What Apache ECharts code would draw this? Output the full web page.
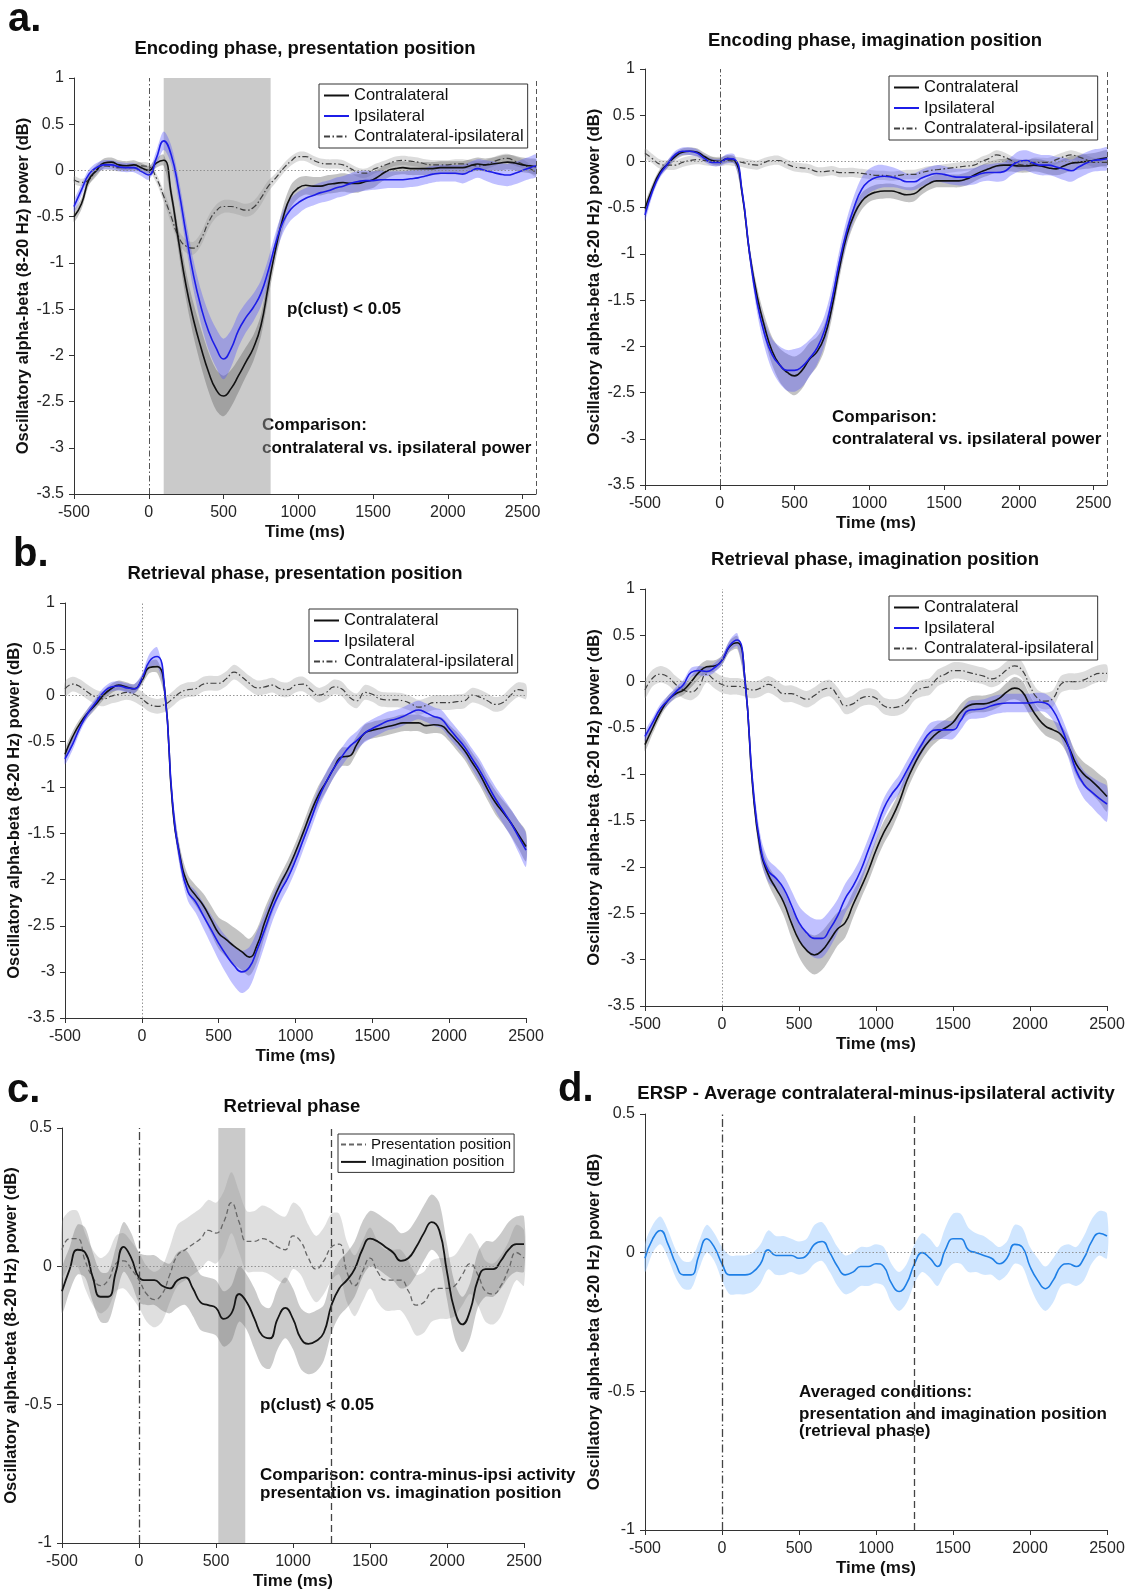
<!DOCTYPE html>
<html><head><meta charset="utf-8">
<script src="https://cdn.jsdelivr.net/npm/echarts@6/dist/echarts.min.js"></script>
<style>html,body{margin:0;padding:0;background:#fff}#c{width:1146px;height:1595px}</style>
</head><body><div id="c"></div>
<script>
const FONT = '"Liberation Sans", Arial, Helvetica, sans-serif';

// ---------- time bases (ms) ----------
const timeA = [-500,-450,-400,-350,-300,-250,-200,-150,-100,-50,
  0,50,100,150,200,250,300,350,400,450,
  500,550,600,650,700,750,800,850,900,950,
  1000,1050,1100,1150,1200,1250,1300,1350,1400,1450,
  1500,1550,1600,1650,1700,1750,1800,1850,1900,1950,
  2000,2050,2100,2150,2200,2250,2300,2350,2400,2450,
  2500,2550,2590];
const timeB = [-500,-450,-400,-350,-300,-250,-200,-150,-100,-50,
  0,50,100,150,200,250,300,350,400,450,
  500,550,600,650,700,750,800,850,900,950,
  1000,1050,1100,1150,1200,1250,1300,1350,1400,1450,
  1500,1550,1600,1650,1700,1750,1800,1850,1900,1950,
  2000,2050,2100,2150,2200,2250,2300,2350,2400,2450,
  2500];
const xTickValues = [-500,0,500,1000,1500,2000,2500];

// ---------- a: encoding, presentation ----------
const encPresContra = [-0.50,-0.36,-0.10,0.00,0.08,0.09,0.06,0.05,0.06,0.03,
  0.00,0.08,0.11,-0.25,-0.77,-1.25,-1.62,-1.92,-2.18,-2.37,
  -2.44,-2.36,-2.22,-2.07,-1.92,-1.68,-1.25,-0.84,-0.50,-0.28,
  -0.19,-0.16,-0.17,-0.17,-0.15,-0.14,-0.13,-0.14,-0.14,-0.12,
  -0.10,-0.05,0.00,0.02,0.03,0.02,0.02,0.02,0.02,0.03,
  0.03,0.03,0.03,0.05,0.07,0.06,0.07,0.08,0.09,0.08,
  0.06,0.05,0.04];
const encPresIpsi = [-0.39,-0.21,-0.04,0.03,0.06,0.06,0.04,0.03,0.03,-0.01,
  -0.05,0.13,0.32,0.17,-0.21,-0.69,-1.14,-1.48,-1.74,-1.92,
  -2.04,-1.93,-1.73,-1.59,-1.48,-1.33,-1.08,-0.78,-0.55,-0.42,
  -0.35,-0.30,-0.27,-0.24,-0.22,-0.19,-0.17,-0.14,-0.12,-0.11,
  -0.11,-0.10,-0.10,-0.10,-0.10,-0.09,-0.08,-0.06,-0.04,-0.03,
  -0.03,-0.03,-0.04,-0.01,0.02,0.00,-0.02,-0.04,-0.05,-0.03,
  0.00,0.03,0.05];
const encPresDiff = [-0.10,-0.13,-0.10,0.00,0.05,0.04,0.03,0.03,0.03,0.05,
  0.04,-0.08,-0.28,-0.50,-0.72,-0.82,-0.84,-0.74,-0.56,-0.44,
  -0.39,-0.39,-0.41,-0.43,-0.40,-0.30,-0.17,-0.08,0.02,0.10,
  0.15,0.15,0.11,0.08,0.07,0.07,0.06,0.02,-0.02,-0.03,
  0.01,0.04,0.07,0.10,0.11,0.10,0.09,0.07,0.06,0.06,
  0.06,0.07,0.07,0.06,0.05,0.06,0.09,0.12,0.13,0.10,
  0.07,0.02,-0.02];
const encPresContraErr = [0.06,0.06,0.06,0.06,0.05,0.05,0.05,0.05,0.05,0.05,
  0.05,0.05,0.06,0.08,0.12,0.15,0.18,0.20,0.21,0.22,
  0.22,0.20,0.18,0.16,0.14,0.12,0.12,0.12,0.12,0.12,
  0.11,0.10,0.10,0.10,0.10,0.10,0.10,0.10,0.10,0.09,
  0.09,0.08,0.08,0.07,0.07,0.07,0.07,0.07,0.07,0.07,
  0.07,0.07,0.07,0.07,0.07,0.07,0.07,0.08,0.08,0.08,
  0.08,0.08,0.08];
const encPresIpsiErr = [0.06,0.06,0.05,0.05,0.05,0.05,0.05,0.05,0.05,0.05,
  0.05,0.08,0.10,0.10,0.12,0.14,0.16,0.18,0.20,0.21,
  0.22,0.20,0.18,0.16,0.15,0.14,0.13,0.12,0.12,0.12,
  0.12,0.11,0.11,0.11,0.11,0.11,0.11,0.11,0.11,0.11,
  0.10,0.10,0.09,0.09,0.09,0.09,0.09,0.09,0.09,0.09,
  0.09,0.09,0.10,0.10,0.10,0.11,0.12,0.12,0.12,0.12,
  0.12,0.12,0.12];
const encPresDiffErr = [0.04,0.04,0.04,0.04,0.04,0.04,0.04,0.04,0.04,0.04,
  0.04,0.05,0.06,0.07,0.07,0.07,0.07,0.07,0.07,0.07,
  0.07,0.07,0.07,0.07,0.07,0.07,0.06,0.05,0.05,0.05,
  0.05,0.05,0.05,0.05,0.05,0.05,0.05,0.05,0.05,0.05,
  0.05,0.05,0.05,0.05,0.05,0.05,0.05,0.05,0.05,0.05,
  0.05,0.05,0.05,0.05,0.05,0.05,0.05,0.05,0.05,0.05,
  0.05,0.05,0.05];
const encPresSignificant = [100, 815];

// ---------- a: encoding, imagination ----------
const encImagContra = [-0.51,-0.29,-0.12,-0.03,0.05,0.10,0.11,0.10,0.05,0.01,
  0.00,0.03,0.01,-0.35,-1.00,-1.46,-1.79,-2.05,-2.20,-2.28,
  -2.32,-2.26,-2.14,-2.06,-1.90,-1.58,-1.16,-0.80,-0.57,-0.43,
  -0.36,-0.33,-0.32,-0.32,-0.34,-0.36,-0.35,-0.29,-0.24,-0.21,
  -0.21,-0.21,-0.21,-0.19,-0.15,-0.11,-0.08,-0.05,-0.04,-0.04,
  -0.05,-0.05,-0.04,-0.05,-0.07,-0.08,-0.05,-0.02,-0.01,0.00,
  0.01,0.03,0.04];
const encImagIpsi = [-0.58,-0.32,-0.14,-0.03,0.07,0.11,0.11,0.09,0.03,-0.01,
  -0.01,0.03,0.02,-0.33,-1.00,-1.53,-1.87,-2.09,-2.20,-2.26,
  -2.26,-2.22,-2.13,-2.02,-1.83,-1.50,-1.09,-0.75,-0.49,-0.30,
  -0.21,-0.17,-0.16,-0.17,-0.19,-0.22,-0.22,-0.18,-0.15,-0.13,
  -0.14,-0.16,-0.17,-0.17,-0.16,-0.13,-0.12,-0.12,-0.11,-0.05,
  0.00,0.01,-0.02,-0.04,-0.04,-0.06,-0.08,-0.10,-0.06,-0.02,
  0.01,0.02,0.03];
const encImagDiff = [0.09,0.03,-0.03,-0.04,-0.04,-0.01,0.01,0.02,0.01,0.00,
  0.00,0.01,0.00,-0.01,-0.03,-0.04,-0.01,0.01,0.01,-0.03,
  -0.06,-0.07,-0.08,-0.11,-0.11,-0.10,-0.12,-0.12,-0.12,-0.13,
  -0.14,-0.15,-0.15,-0.16,-0.15,-0.14,-0.14,-0.12,-0.10,-0.09,
  -0.08,-0.07,-0.06,-0.05,-0.04,0.00,0.03,0.07,0.05,0.01,
  -0.03,-0.04,-0.01,-0.01,-0.01,0.02,0.05,0.07,0.05,0.02,
  -0.01,-0.01,-0.01];
const encImagContraErr = [0.05,0.05,0.04,0.04,0.04,0.04,0.04,0.04,0.04,0.04,
  0.04,0.04,0.04,0.06,0.08,0.10,0.12,0.15,0.18,0.20,
  0.21,0.20,0.18,0.16,0.14,0.12,0.11,0.10,0.10,0.09,
  0.08,0.08,0.08,0.08,0.08,0.08,0.08,0.07,0.07,0.07,
  0.07,0.07,0.07,0.07,0.07,0.07,0.07,0.07,0.07,0.07,
  0.07,0.07,0.07,0.07,0.07,0.07,0.08,0.08,0.08,0.08,
  0.08,0.08,0.08];
const encImagIpsiErr = [0.06,0.05,0.04,0.04,0.04,0.04,0.04,0.04,0.04,0.04,
  0.04,0.05,0.05,0.06,0.08,0.11,0.14,0.17,0.20,0.22,
  0.23,0.22,0.20,0.18,0.16,0.14,0.13,0.13,0.13,0.13,
  0.13,0.13,0.12,0.11,0.10,0.09,0.09,0.09,0.09,0.09,
  0.09,0.09,0.09,0.09,0.09,0.09,0.09,0.10,0.10,0.10,
  0.11,0.11,0.11,0.11,0.11,0.11,0.12,0.12,0.12,0.12,
  0.12,0.12,0.12];
const encImagDiffErr = [0.05,0.05,0.05,0.05,0.05,0.05,0.05,0.05,0.05,0.05,
  0.05,0.05,0.05,0.05,0.05,0.05,0.05,0.05,0.05,0.05,
  0.05,0.05,0.05,0.05,0.05,0.05,0.05,0.05,0.05,0.05,
  0.05,0.05,0.05,0.05,0.05,0.05,0.05,0.05,0.05,0.05,
  0.05,0.05,0.05,0.05,0.05,0.05,0.05,0.05,0.05,0.05,
  0.05,0.05,0.05,0.05,0.05,0.05,0.05,0.05,0.05,0.05,
  0.05,0.05,0.05];

// ---------- b: retrieval, presentation ----------
const retPresContra = [-0.64,-0.45,-0.30,-0.19,-0.10,0.00,0.07,0.11,0.09,0.07,
  0.16,0.30,0.31,0.03,-1.20,-1.76,-2.05,-2.17,-2.28,-2.43,
  -2.58,-2.65,-2.72,-2.78,-2.84,-2.71,-2.46,-2.24,-2.05,-1.89,
  -1.70,-1.49,-1.27,-1.08,-0.94,-0.79,-0.67,-0.66,-0.53,-0.41,
  -0.38,-0.36,-0.34,-0.32,-0.30,-0.30,-0.30,-0.33,-0.32,-0.33,
  -0.41,-0.50,-0.60,-0.73,-0.86,-1.02,-1.16,-1.27,-1.38,-1.51,
  -1.64];
const retPresIpsi = [-0.69,-0.53,-0.34,-0.19,-0.08,0.03,0.09,0.10,0.08,0.07,
  0.18,0.37,0.42,0.03,-1.16,-1.79,-2.13,-2.24,-2.39,-2.54,
  -2.69,-2.82,-2.93,-3.00,-2.95,-2.76,-2.54,-2.31,-2.13,-1.98,
  -1.79,-1.57,-1.35,-1.12,-0.94,-0.79,-0.67,-0.56,-0.49,-0.41,
  -0.36,-0.32,-0.28,-0.26,-0.23,-0.19,-0.16,-0.19,-0.23,-0.26,
  -0.36,-0.46,-0.56,-0.69,-0.82,-0.97,-1.12,-1.25,-1.38,-1.53,
  -1.68];
const retPresDiff = [0.07,0.12,0.09,0.03,-0.02,-0.04,-0.01,0.01,0.03,0.01,
  -0.04,-0.10,-0.12,-0.10,-0.04,0.03,0.06,0.07,0.12,0.13,
  0.13,0.18,0.25,0.20,0.13,0.08,0.09,0.11,0.07,0.06,
  0.11,0.12,0.06,0.00,0.03,0.09,0.07,-0.02,-0.06,0.03,
  0.01,-0.04,-0.05,-0.05,-0.06,-0.09,-0.13,-0.11,-0.08,-0.08,
  -0.08,-0.07,-0.06,0.00,-0.02,-0.06,-0.10,-0.08,0.00,0.06,
  0.04];
const retPresContraErr = [0.06,0.06,0.05,0.05,0.05,0.05,0.05,0.05,0.05,0.05,
  0.05,0.06,0.07,0.08,0.10,0.10,0.10,0.11,0.13,0.15,
  0.17,0.19,0.20,0.20,0.20,0.18,0.15,0.12,0.10,0.10,
  0.10,0.10,0.10,0.10,0.10,0.10,0.10,0.10,0.09,0.09,
  0.09,0.09,0.09,0.09,0.09,0.09,0.09,0.09,0.09,0.09,
  0.09,0.10,0.10,0.11,0.12,0.12,0.13,0.13,0.14,0.15,
  0.16];
const retPresIpsiErr = [0.06,0.06,0.05,0.05,0.05,0.05,0.05,0.05,0.05,0.05,
  0.05,0.08,0.10,0.08,0.10,0.10,0.10,0.12,0.14,0.16,
  0.18,0.20,0.22,0.23,0.22,0.20,0.17,0.14,0.12,0.11,
  0.11,0.11,0.11,0.11,0.11,0.10,0.10,0.10,0.10,0.10,
  0.10,0.10,0.10,0.10,0.10,0.10,0.10,0.10,0.10,0.10,
  0.10,0.10,0.10,0.11,0.12,0.12,0.13,0.14,0.15,0.17,
  0.18];
const retPresDiffErr = [0.08,0.08,0.08,0.08,0.08,0.08,0.08,0.08,0.08,0.08,
  0.08,0.08,0.08,0.08,0.08,0.08,0.08,0.08,0.08,0.08,
  0.08,0.08,0.08,0.08,0.08,0.08,0.08,0.08,0.08,0.08,
  0.08,0.08,0.08,0.08,0.08,0.08,0.08,0.08,0.08,0.08,
  0.08,0.08,0.08,0.08,0.08,0.08,0.08,0.08,0.08,0.08,
  0.08,0.08,0.08,0.08,0.08,0.08,0.08,0.08,0.08,0.08,
  0.08];

// ---------- b: retrieval, imagination ----------
const retImagContra = [-0.68,-0.50,-0.33,-0.20,-0.13,-0.09,0.00,0.10,0.16,0.17,
  0.23,0.38,0.42,0.00,-1.15,-1.82,-2.08,-2.23,-2.38,-2.60,
  -2.79,-2.90,-2.95,-2.90,-2.79,-2.67,-2.60,-2.41,-2.23,-2.04,
  -1.82,-1.63,-1.48,-1.30,-1.07,-0.89,-0.74,-0.63,-0.55,-0.50,
  -0.44,-0.33,-0.26,-0.24,-0.24,-0.22,-0.18,-0.11,-0.07,-0.11,
  -0.26,-0.39,-0.48,-0.52,-0.57,-0.70,-0.89,-1.00,-1.07,-1.15,
  -1.24];
const retImagIpsi = [-0.59,-0.44,-0.29,-0.20,-0.11,-0.03,0.10,0.12,0.11,0.15,
  0.23,0.39,0.45,0.00,-1.11,-1.78,-2.04,-2.12,-2.23,-2.41,
  -2.60,-2.71,-2.77,-2.77,-2.67,-2.53,-2.34,-2.21,-2.04,-1.82,
  -1.60,-1.37,-1.22,-1.11,-0.96,-0.81,-0.67,-0.55,-0.52,-0.52,
  -0.52,-0.42,-0.31,-0.30,-0.29,-0.26,-0.24,-0.23,-0.23,-0.23,
  -0.23,-0.22,-0.23,-0.31,-0.48,-0.70,-0.96,-1.11,-1.19,-1.26,
  -1.32];
const retImagDiff = [-0.09,0.04,0.08,0.05,-0.03,-0.09,-0.11,-0.05,0.08,0.02,
  -0.03,-0.05,-0.05,-0.07,-0.09,-0.07,-0.03,-0.07,-0.13,-0.13,
  -0.16,-0.19,-0.15,-0.09,-0.07,-0.15,-0.26,-0.24,-0.18,-0.16,
  -0.18,-0.26,-0.28,-0.27,-0.22,-0.11,-0.07,-0.05,0.04,0.08,
  0.12,0.12,0.10,0.08,0.06,0.03,0.06,0.13,0.17,0.12,
  -0.05,-0.18,-0.21,-0.18,-0.03,0.00,0.00,0.02,0.06,0.09,
  0.09];
const retImagContraErr = [0.07,0.06,0.05,0.05,0.05,0.05,0.06,0.07,0.07,0.06,
  0.05,0.06,0.07,0.08,0.10,0.10,0.10,0.12,0.14,0.16,
  0.18,0.20,0.21,0.21,0.20,0.18,0.16,0.14,0.12,0.12,
  0.12,0.12,0.12,0.11,0.11,0.10,0.10,0.09,0.09,0.09,
  0.09,0.09,0.09,0.09,0.09,0.09,0.09,0.10,0.12,0.12,
  0.11,0.10,0.10,0.10,0.10,0.11,0.12,0.13,0.14,0.15,
  0.16];
const retImagIpsiErr = [0.05,0.05,0.05,0.05,0.05,0.05,0.05,0.05,0.05,0.05,
  0.05,0.06,0.07,0.08,0.10,0.12,0.12,0.12,0.14,0.16,
  0.18,0.20,0.21,0.21,0.20,0.18,0.16,0.15,0.14,0.13,
  0.12,0.11,0.10,0.10,0.10,0.10,0.10,0.10,0.10,0.10,
  0.10,0.10,0.10,0.10,0.10,0.10,0.10,0.10,0.10,0.10,
  0.10,0.10,0.10,0.11,0.12,0.13,0.14,0.15,0.16,0.18,
  0.19];
const retImagDiffErr = [0.09,0.09,0.09,0.09,0.09,0.09,0.09,0.09,0.09,0.09,
  0.09,0.09,0.09,0.09,0.09,0.09,0.09,0.09,0.09,0.09,
  0.09,0.09,0.09,0.09,0.09,0.09,0.09,0.09,0.09,0.09,
  0.09,0.09,0.09,0.09,0.09,0.09,0.09,0.09,0.09,0.09,
  0.09,0.09,0.09,0.09,0.09,0.09,0.09,0.09,0.09,0.09,
  0.09,0.09,0.09,0.09,0.09,0.09,0.09,0.09,0.09,0.09,
  0.09];

// ---------- c: retrieval, contra-minus-ipsi ----------
const cPresentation = [0.06,0.10,0.10,0.02,-0.04,-0.07,-0.05,0.01,0.02,-0.01,
  -0.05,-0.10,-0.12,-0.10,-0.03,0.04,0.06,0.08,0.10,0.13,
  0.12,0.16,0.23,0.16,0.09,0.09,0.10,0.09,0.07,0.06,
  0.11,0.09,0.03,-0.01,0.02,0.07,0.08,-0.02,-0.07,-0.02,
  0.03,-0.02,-0.05,-0.05,-0.05,-0.09,-0.14,-0.13,-0.09,-0.08,
  -0.08,-0.07,-0.03,0.01,-0.03,-0.09,-0.10,-0.07,-0.01,0.05,
  0.03];
const cImagination = [-0.09,-0.01,0.06,0.05,-0.04,-0.11,-0.11,-0.02,0.07,0.03,
  -0.04,-0.05,-0.05,-0.07,-0.08,-0.05,-0.04,-0.08,-0.13,-0.14,
  -0.15,-0.19,-0.17,-0.10,-0.13,-0.19,-0.25,-0.26,-0.19,-0.15,
  -0.19,-0.26,-0.28,-0.27,-0.24,-0.14,-0.08,-0.05,-0.01,0.06,
  0.10,0.09,0.07,0.05,0.02,0.03,0.07,0.12,0.16,0.13,
  -0.02,-0.16,-0.21,-0.16,-0.05,-0.01,-0.01,0.02,0.06,0.08,
  0.08];
const cPresentationErr = [0.10,0.10,0.10,0.10,0.10,0.10,0.10,0.10,0.10,0.10,
  0.10,0.10,0.10,0.10,0.10,0.11,0.11,0.11,0.11,0.11,
  0.11,0.11,0.11,0.11,0.11,0.11,0.12,0.12,0.12,0.12,
  0.12,0.12,0.12,0.12,0.12,0.12,0.11,0.11,0.11,0.11,
  0.11,0.11,0.11,0.11,0.11,0.11,0.11,0.11,0.11,0.11,
  0.11,0.11,0.11,0.11,0.11,0.11,0.11,0.11,0.10,0.10,
  0.10];
const cImaginationErr = [0.08,0.08,0.09,0.09,0.09,0.09,0.09,0.09,0.09,0.09,
  0.09,0.09,0.09,0.09,0.09,0.10,0.10,0.10,0.10,0.10,
  0.10,0.10,0.10,0.10,0.10,0.11,0.11,0.11,0.11,0.11,
  0.11,0.11,0.11,0.11,0.10,0.10,0.10,0.10,0.10,0.10,
  0.10,0.10,0.10,0.10,0.10,0.10,0.10,0.10,0.10,0.10,
  0.10,0.10,0.10,0.10,0.10,0.10,0.10,0.10,0.10,0.10,
  0.10];
const cSignificant = [515, 690];
const cueEndTime = 1250;

// ---------- d: averaged contra-minus-ipsi ----------
const dAverage = [-0.02,0.05,0.08,0.03,-0.04,-0.08,-0.08,-0.01,0.05,0.02,
  -0.04,-0.08,-0.08,-0.08,-0.07,-0.04,0.01,-0.01,-0.01,-0.01,
  -0.02,-0.01,0.03,0.04,0.00,-0.05,-0.08,-0.07,-0.05,-0.05,
  -0.04,-0.05,-0.11,-0.14,-0.11,-0.04,0.00,-0.02,-0.05,0.01,
  0.05,0.05,0.01,0.00,-0.01,-0.02,-0.04,-0.02,0.03,0.02,
  -0.05,-0.10,-0.13,-0.10,-0.05,-0.04,-0.05,-0.02,0.04,0.07,
  0.06];
const dAverageErr = [0.05,0.05,0.05,0.05,0.05,0.05,0.05,0.05,0.05,0.05,
  0.06,0.07,0.07,0.07,0.07,0.07,0.07,0.07,0.07,0.06,
  0.06,0.06,0.07,0.07,0.07,0.07,0.07,0.07,0.07,0.07,
  0.07,0.07,0.07,0.07,0.07,0.07,0.07,0.07,0.07,0.08,
  0.09,0.09,0.08,0.07,0.07,0.06,0.06,0.06,0.07,0.07,
  0.07,0.08,0.08,0.08,0.07,0.07,0.07,0.08,0.08,0.08,
  0.08];

// ---------- styling ----------
const C_CONTRA = '#111111', C_IPSI = '#1c1ce8', C_DIFF = '#404040', C_D = '#1e7fe6';
const B_CONTRA = 'rgba(90,90,90,0.36)', B_IPSI = 'rgba(80,80,255,0.36)', B_DIFF = 'rgba(150,150,150,0.33)';
const DASHDOT = [6, 2.5, 1.5, 2.5];

const grids = [
  {left:74, top:78, width:462, height:416},
  {left:645, top:69, width:462, height:416},
  {left:65, top:603, width:461, height:415},
  {left:645, top:589, width:462, height:417},
  {left:62, top:1128, width:462, height:415},
  {left:645, top:1114, width:462, height:416}
];
const xMax = [2590, 2590, 2500, 2500, 2500, 2500];
const yRange = [[-3.5,1],[-3.5,1],[-3.5,1],[-3.5,1],[-1,0.5],[-1,0.5]];

function xAxisFor(g) {
  return {type:'value', gridIndex:g, min:-500, max:xMax[g], interval:500,
    axisLine:{show:true, onZero:false, lineStyle:{color:'#333', width:1}},
    axisTick:{show:true, inside:false, length:5, lineStyle:{color:'#333'}, customValues:xTickValues},
    axisLabel:{show:true, color:'#262626', fontSize:16, fontFamily:FONT, margin:11, customValues:xTickValues,
      formatter:function (v) { return String(v); }},
    splitLine:{show:false},
    name:'Time (ms)', nameLocation:'middle', nameGap:30, nameMoveOverlap:false,
    nameTextStyle:{fontFamily:FONT, fontSize:17, fontWeight:'bold', color:'#111'}};
}
function yAxisFor(g) {
  return {type:'value', gridIndex:g, min:yRange[g][0], max:yRange[g][1], interval:0.5,
    axisLine:{show:true, onZero:false, lineStyle:{color:'#333', width:1}},
    axisTick:{show:true, inside:false, length:5, lineStyle:{color:'#333'}},
    axisLabel:{show:true, color:'#262626', fontSize:16, fontFamily:FONT, margin:10,
      formatter:function (v) { return String(v); }},
    splitLine:{show:false},
    name:'Oscillatory alpha-beta (8-20 Hz) power (dB)', nameLocation:'middle', nameGap:42, nameMoveOverlap:false,
    nameTextStyle:{fontFamily:FONT, fontSize:16.5, fontWeight:'bold', color:'#111'}};
}
function pts(t, v) { return v.map((y, i) => [t[i], y]); }
// confidence band: polygon through (t, mean+err) and back through (t, mean-err), placed via the axes
function band(g, key, t, mean, err, color, extra) {
  const rows = mean.map((m, i) => [t[i], +(m - err[i]).toFixed(4), +(m + err[i]).toFixed(4)]);
  return Object.assign({
    type:'custom', name:key, xAxisIndex:g, yAxisIndex:g, data:rows, silent:true,
    dimensions:['t','lo','hi'], encode:{x:0, y:[1,2]},
    renderItem:function (params, api) {
      if (params.dataIndex !== 0) return null;
      const upper = rows.map(r => api.coord([r[0], r[2]]));
      const lower = rows.map(r => api.coord([r[0], r[1]])).reverse();
      return {type:'polygon', shape:{points:upper.concat(lower), smooth:0.3}, style:{fill:color, stroke:null}};
    }
  }, extra || {});
}
function line(g, name, t, v, color, width, dash, extra) {
  return Object.assign({type:'line', name:name, xAxisIndex:g, yAxisIndex:g, data:pts(t, v), symbol:'none',
    smooth:0.5, silent:true, lineStyle:{color:color, width:width, type:dash || 'solid'}, itemStyle:{color:color},
    emphasis:{disabled:true}}, extra || {});
}
function refs(items) {
  return {markLine:{silent:true, symbol:['none','none'], label:{show:false}, emphasis:{disabled:true}, animation:false, data:items}};
}
const zeroH = {yAxis:0, lineStyle:{color:'#8a8a8a', width:0.9, type:[1.5,2]}};
const zeroVdot = {xAxis:0, lineStyle:{color:'#8a8a8a', width:0.9, type:[1.5,2]}};
const zeroVdd = {xAxis:0, lineStyle:{color:'#555', width:1, type:DASHDOT}};
const endVA = {xAxis:2590, lineStyle:{color:'#555', width:1, type:[5,3]}};
const zeroVcd = {xAxis:0, lineStyle:{color:'#444', width:1.3, type:[8,3,1.5,3]}};
const cueV = {xAxis:cueEndTime, lineStyle:{color:'#444', width:1.3, type:[7,4]}};
function sigArea(win) {
  return {markArea:{silent:true, itemStyle:{color:'rgba(150,150,150,0.5)'}, emphasis:{disabled:true}, data:[[{xAxis:win[0]},{xAxis:win[1]}]]}};
}

const series = [
  // a-left
  band(0, 'a1d', timeA, encPresDiff, encPresDiffErr, B_DIFF, sigArea(encPresSignificant)),
  band(0, 'a1c', timeA, encPresContra, encPresContraErr, B_CONTRA),
  band(0, 'a1i', timeA, encPresIpsi, encPresIpsiErr, B_IPSI),
  line(0, 'Contralateral-ipsilateral', timeA, encPresDiff, C_DIFF, 1.2, DASHDOT, refs([zeroH, zeroVdd, endVA])),
  line(0, 'Contralateral', timeA, encPresContra, C_CONTRA, 1.6),
  line(0, 'Ipsilateral', timeA, encPresIpsi, C_IPSI, 1.6),
  // a-right
  band(1, 'a2d', timeA, encImagDiff, encImagDiffErr, B_DIFF),
  band(1, 'a2c', timeA, encImagContra, encImagContraErr, B_CONTRA),
  band(1, 'a2i', timeA, encImagIpsi, encImagIpsiErr, B_IPSI),
  line(1, 'Contralateral-ipsilateral', timeA, encImagDiff, C_DIFF, 1.2, DASHDOT, refs([zeroH, zeroVdd, endVA])),
  line(1, 'Contralateral', timeA, encImagContra, C_CONTRA, 1.6),
  line(1, 'Ipsilateral', timeA, encImagIpsi, C_IPSI, 1.6),
  // b-left
  band(2, 'b1d', timeB, retPresDiff, retPresDiffErr, B_DIFF),
  band(2, 'b1c', timeB, retPresContra, retPresContraErr, B_CONTRA),
  band(2, 'b1i', timeB, retPresIpsi, retPresIpsiErr, B_IPSI),
  line(2, 'Contralateral-ipsilateral', timeB, retPresDiff, C_DIFF, 1.2, DASHDOT, refs([zeroH, zeroVdot])),
  line(2, 'Contralateral', timeB, retPresContra, C_CONTRA, 1.6),
  line(2, 'Ipsilateral', timeB, retPresIpsi, C_IPSI, 1.6),
  // b-right
  band(3, 'b2d', timeB, retImagDiff, retImagDiffErr, B_DIFF),
  band(3, 'b2c', timeB, retImagContra, retImagContraErr, B_CONTRA),
  band(3, 'b2i', timeB, retImagIpsi, retImagIpsiErr, B_IPSI),
  line(3, 'Contralateral-ipsilateral', timeB, retImagDiff, C_DIFF, 1.2, DASHDOT, refs([zeroH, zeroVdot])),
  line(3, 'Contralateral', timeB, retImagContra, C_CONTRA, 1.6),
  line(3, 'Ipsilateral', timeB, retImagIpsi, C_IPSI, 1.6),
  // c
  band(4, 'cp', timeB, cPresentation, cPresentationErr, 'rgba(150,150,150,0.3)', sigArea(cSignificant)),
  band(4, 'ci', timeB, cImagination, cImaginationErr, 'rgba(110,110,110,0.36)'),
  line(4, 'Presentation position', timeB, cPresentation, '#666', 1.3, [5,3], refs([zeroH, zeroVcd, cueV])),
  line(4, 'Imagination position', timeB, cImagination, '#151515', 1.8),
  // d
  band(5, 'dd', timeB, dAverage, dAverageErr, 'rgba(150,200,255,0.45)'),
  line(5, 'Average', timeB, dAverage, C_D, 1.6, 'solid', refs([zeroH, zeroVcd, cueV]))
];

const legendBase = {orient:'vertical', itemWidth:25, itemHeight:10, itemGap:3.5, selectedMode:false,
  borderColor:'#333', borderWidth:1, borderRadius:0, backgroundColor:'#fff', padding:[3,4,3,4],
  itemStyle:{opacity:0},
  textStyle:{fontFamily:FONT, fontSize:16.5, color:'#111'}};
const names3 = ['Contralateral','Ipsilateral','Contralateral-ipsilateral'];
const legends = [
  Object.assign({}, legendBase, {data:names3, left:319, top:84}),
  Object.assign({}, legendBase, {data:names3, left:889, top:76}),
  Object.assign({}, legendBase, {data:names3, left:309, top:609}),
  Object.assign({}, legendBase, {data:names3, left:889, top:596}),
  Object.assign({}, legendBase, {data:['Presentation position','Imagination position'], left:338, top:1134,
    itemGap:2.4, padding:[3,3,3,2], textStyle:{fontFamily:FONT, fontSize:15, color:'#111'}})
];

function txt(s, x, y, size, align, weight) {
  return {type:'text', x:x, y:y, silent:true, style:{text:s, fill:'#0d0d0d',
    font:(weight || 'bold') + ' ' + size + 'px ' + FONT, fontFamily:FONT, fontSize:size, fontWeight:(weight || 'bold'),
    textAlign:align, align:align, textVerticalAlign:'middle', verticalAlign:'middle'}};
}
const graphics = [
  txt('a.', 8, 20, 40, 'left'),
  txt('b.', 13, 555, 40, 'left'),
  txt('c.', 7, 1091, 40, 'left'),
  txt('d.', 558, 1090, 40, 'left'),
  txt('Encoding phase, presentation position', 305, 49, 18.5, 'center'),
  txt('Encoding phase, imagination position', 875, 41, 18.5, 'center'),
  txt('Retrieval phase, presentation position', 295, 574, 18.5, 'center'),
  txt('Retrieval phase, imagination position', 875, 560, 18.5, 'center'),
  txt('Retrieval phase', 292, 1107, 18.5, 'center'),
  txt('ERSP - Average contralateral-minus-ipsilateral activity', 876, 1094, 18.5, 'center'),
  txt('p(clust) < 0.05', 287, 309, 17, 'left'),
  txt('Comparison:', 262, 425, 17, 'left'),
  txt('contralateral vs. ipsilateral power', 262, 448, 17, 'left'),
  txt('Comparison:', 832, 417, 17, 'left'),
  txt('contralateral vs. ipsilateral power', 832, 439, 17, 'left'),
  txt('p(clust) < 0.05', 260, 1405, 17, 'left'),
  txt('Comparison: contra-minus-ipsi activity', 260, 1475, 17, 'left'),
  txt('presentation vs. imagination position', 260, 1493, 17, 'left'),
  txt('Averaged conditions:', 799, 1392, 17, 'left'),
  txt('presentation and imagination position', 799, 1414, 17, 'left'),
  txt('(retrieval phase)', 799, 1431, 17, 'left')
];

const chart = echarts.init(document.getElementById('c'), null, {renderer:'canvas', width:1146, height:1595});
chart.setOption({
  animation:false,
  backgroundColor:'#fff',
  textStyle:{fontFamily:FONT},
  grid:grids.map(g => Object.assign({outerBoundsMode:'none', containLabel:false}, g)),
  xAxis:grids.map((g, i) => xAxisFor(i)),
  yAxis:grids.map((g, i) => yAxisFor(i)),
  legend:legends,
  series:series,
  graphic:{elements:graphics}
});
</script></body></html>
